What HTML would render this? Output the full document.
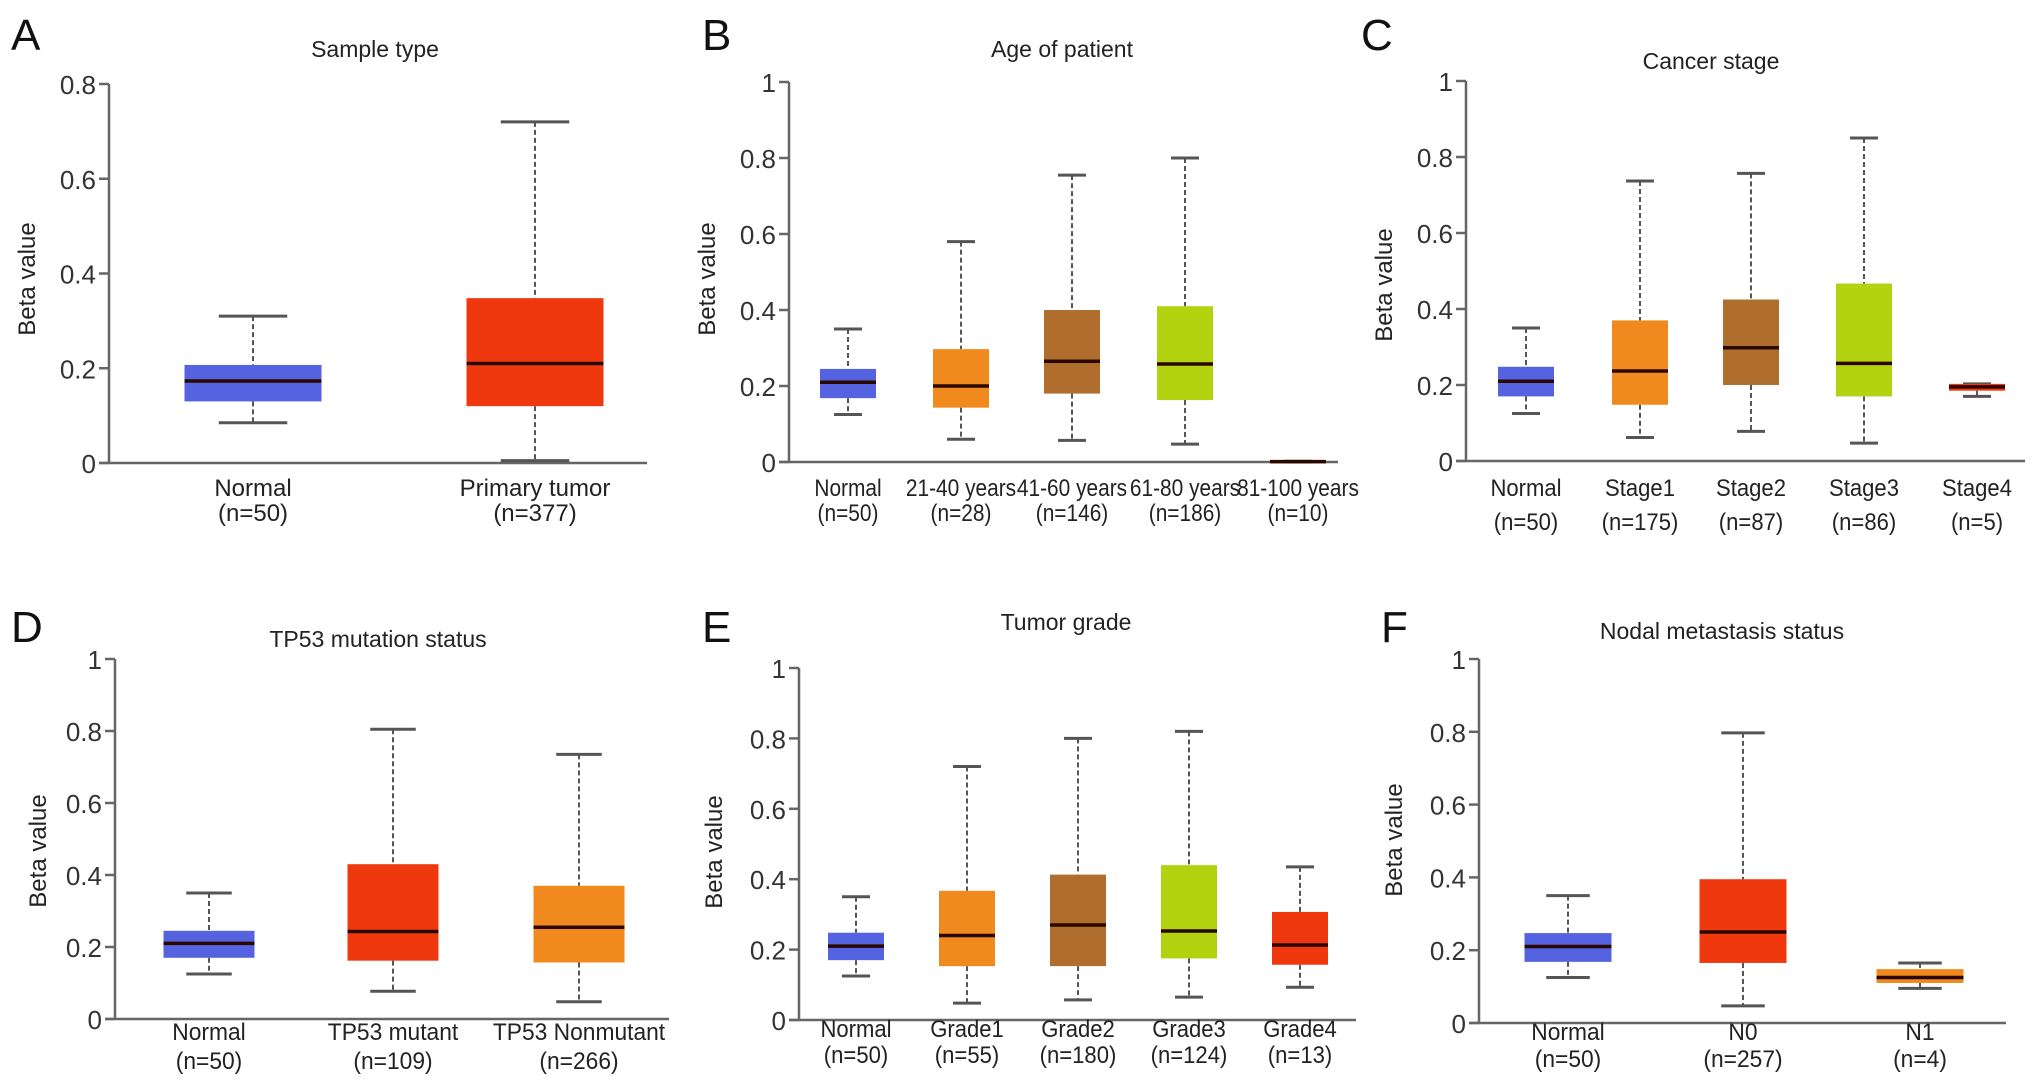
<!DOCTYPE html>
<html><head><meta charset="utf-8"><style>
html,body{margin:0;padding:0;background:#fff;}
svg{display:block;font-family:"Liberation Sans",Arial,sans-serif;}
</style></head><body>
<svg id="fig" width="2032" height="1086" viewBox="0 0 2032 1086" xmlns="http://www.w3.org/2000/svg"></svg>
<script>
// Panel A
const A_categories=["Normal","Primary tumor"];
const A_counts=["(n=50)","(n=377)"];
const A_max=[0.31,0.72];const A_q3=[0.207,0.348];const A_med=[0.173,0.21];const A_q1=[0.13,0.12];const A_min=[0.085,0.005];
const A_ticks=[0,0.2,0.4,0.6,0.8];const A_tickLabels=["0","0.2","0.4","0.6","0.8"];
// Panel B
const B_categories=["Normal","21-40 years","41-60 years","61-80 years","81-100 years"];
const B_counts=["(n=50)","(n=28)","(n=146)","(n=186)","(n=10)"];
const B_max=[0.35,0.58,0.755,0.8,0.002];const B_q3=[0.245,0.297,0.4,0.41,0.002];const B_med=[0.21,0.2,0.265,0.258,0.001];const B_q1=[0.168,0.143,0.18,0.163,0.0];const B_min=[0.125,0.06,0.057,0.047,0.0];
// Panel C
const C_categories=["Normal","Stage1","Stage2","Stage3","Stage4"];
const C_counts=["(n=50)","(n=175)","(n=87)","(n=86)","(n=5)"];
const C_max=[0.35,0.737,0.757,0.85,0.203];const C_q3=[0.248,0.37,0.425,0.467,0.203];const C_med=[0.21,0.237,0.298,0.257,0.195];const C_q1=[0.17,0.148,0.2,0.17,0.185];const C_min=[0.125,0.062,0.078,0.047,0.17];
// Panel D
const D_categories=["Normal","TP53 mutant","TP53 Nonmutant"];
const D_counts=["(n=50)","(n=109)","(n=266)"];
const D_max=[0.35,0.805,0.735];const D_q3=[0.245,0.43,0.37];const D_med=[0.21,0.243,0.255];const D_q1=[0.17,0.162,0.157];const D_min=[0.125,0.077,0.048];
// Panel E
const E_categories=["Normal","Grade1","Grade2","Grade3","Grade4"];
const E_counts=["(n=50)","(n=55)","(n=180)","(n=124)","(n=13)"];
const E_max=[0.35,0.72,0.8,0.82,0.435];const E_q3=[0.248,0.367,0.413,0.44,0.307];const E_med=[0.21,0.24,0.27,0.253,0.213];const E_q1=[0.17,0.153,0.153,0.175,0.157];const E_min=[0.125,0.048,0.057,0.065,0.093];
// Panel F
const F_categories=["Normal","N0","N1"];
const F_counts=["(n=50)","(n=257)","(n=4)"];
const F_max=[0.35,0.797,0.165];const F_q3=[0.247,0.395,0.148];const F_med=[0.21,0.25,0.125];const F_q1=[0.168,0.165,0.11];const F_min=[0.125,0.047,0.095];
const unitTicks=[0,0.2,0.4,0.6,0.8,1];const unitTickLabels=["0","0.2","0.4","0.6","0.8","1"];

const BLUE="#5563e0",RED="#f0380e",ORANGE="#f08a1e",BROWN="#b06e2e",LIME="#b3d311";
const panels=[
 {id:"a",letter:"A",lx:11,ly:50,title:"Sample type",tx:375,ty:57,ax:109,ay0:463,ayTop:84,vTop:0.8,aEnd:647,centers:[253,535],bw:137,lab1:496,lab2:521,lfs:24,lsq:1,ylx:35,yly:279,
  cats:A_categories,counts:A_counts,mx:A_max,q3:A_q3,md:A_med,q1:A_q1,mn:A_min,ticks:A_ticks,tl:A_tickLabels,colors:[BLUE,RED]},
 {id:"b",letter:"B",lx:702,ly:50,title:"Age of patient",tx:1062,ty:57,ax:789,ay0:462,ayTop:82,vTop:1,aEnd:1338,centers:[848,961,1072,1185,1298],bw:56,lab1:496,lab2:521,lfs:24,lsq:0.87,ylx:715,yly:279,
  cats:B_categories,counts:B_counts,mx:B_max,q3:B_q3,md:B_med,q1:B_q1,mn:B_min,ticks:unitTicks,tl:unitTickLabels,colors:[BLUE,ORANGE,BROWN,LIME,"#333"]},
 {id:"c",letter:"C",lx:1361,ly:50,title:"Cancer stage",tx:1711,ty:69,ax:1466,ay0:461,ayTop:81,vTop:1,aEnd:2025,centers:[1526,1640,1751,1864,1977],bw:56,lab1:496,lab2:530,lfs:24,lsq:0.92,ylx:1392,yly:285,
  cats:C_categories,counts:C_counts,mx:C_max,q3:C_q3,md:C_med,q1:C_q1,mn:C_min,ticks:unitTicks,tl:unitTickLabels,colors:[BLUE,ORANGE,BROWN,LIME,RED]},
 {id:"d",letter:"D",lx:11,ly:642,title:"TP53 mutation status",tx:378,ty:647,ax:115,ay0:1019,ayTop:659,vTop:1,aEnd:669,centers:[209,393,579],bw:91,lab1:1040,lab2:1069,lfs:24,lsq:0.95,ylx:46,yly:851,
  cats:D_categories,counts:D_counts,mx:D_max,q3:D_q3,md:D_med,q1:D_q1,mn:D_min,ticks:unitTicks,tl:unitTickLabels,colors:[BLUE,RED,ORANGE]},
 {id:"e",letter:"E",lx:702,ly:642,title:"Tumor grade",tx:1066,ty:630,ax:799,ay0:1020,ayTop:668,vTop:1,aEnd:1356,centers:[856,967,1078,1189,1300],bw:56,lab1:1037,lab2:1063,lfs:24,lsq:0.92,ylx:722,yly:852,
  cats:E_categories,counts:E_counts,mx:E_max,q3:E_q3,md:E_med,q1:E_q1,mn:E_min,ticks:unitTicks,tl:unitTickLabels,colors:[BLUE,ORANGE,BROWN,LIME,RED]},
 {id:"f",letter:"F",lx:1381,ly:642,title:"Nodal metastasis status",tx:1722,ty:639,ax:1479,ay0:1023,ayTop:659,vTop:1,aEnd:2006,centers:[1568,1743,1920],bw:87,lab1:1040,lab2:1067,lfs:24,lsq:0.95,ylx:1402,yly:840,
  cats:F_categories,counts:F_counts,mx:F_max,q3:F_q3,md:F_med,q1:F_q1,mn:F_min,ticks:unitTicks,tl:unitTickLabels,colors:[BLUE,RED,ORANGE]}
];
const NS="http://www.w3.org/2000/svg";
const svg=document.getElementById("fig");
function mk(tag,attrs,parent,text){const e=document.createElementNS(NS,tag);for(const k in attrs)e.setAttribute(k,attrs[k]);if(text!==undefined)e.textContent=text;parent.appendChild(e);return e;}
panels.forEach(p=>{
  const g=mk("g",{},svg);
  
  
  const y=v=>p.ay0-(v/p.vTop)*(p.ay0-p.ayTop);
  const L=mk("text",{x:p.lx,y:p.ly,"font-size":44,fill:"#111"},g,p.letter);
  
  
  const T=mk("text",{x:p.tx,y:p.ty,"font-size":23,fill:"#222","text-anchor":"middle"},g,p.title);
  
  
  const YL=mk("text",{x:p.ylx,y:p.yly,"font-size":24,fill:"#222","text-anchor":"middle",transform:"rotate(-90 "+p.ylx+" "+p.yly+")"},g,"Beta value");
  
  
  const ya=mk("line",{x1:p.ax,y1:p.ayTop,x2:p.ax,y2:p.ay0,stroke:"#666","stroke-width":2.5},g);
  
  
  const xa=mk("line",{x1:p.ax-10,y1:p.ay0,x2:p.aEnd,y2:p.ay0,stroke:"#666","stroke-width":2.5},g);
  
  
  p.ticks.forEach((t,i)=>{
    const tk=mk("line",{x1:p.ax-10,y1:y(t),x2:p.ax,y2:y(t),stroke:"#666","stroke-width":2.5},g);
    
    
    const tl=mk("text",{x:p.ax-13,y:y(t)+10,"font-size":26,fill:"#333","text-anchor":"end"},g,p.tl[i]);
    
    
  });
  p.cats.forEach((c,i)=>{
    const cx=p.centers[i],hw=p.bw/2,col=p.colors[i];
    const bg=mk("g",{},g);
    
    
    const dash={stroke:"#555","stroke-width":2,"stroke-dasharray":"5,3"};
    const w1=mk("line",Object.assign({x1:cx,y1:y(p.mx[i]),x2:cx,y2:y(p.q3[i])},dash),bg);
    
    
    const w2=mk("line",Object.assign({x1:cx,y1:y(p.q1[i]),x2:cx,y2:y(p.mn[i])},dash),bg);
    
    
    const cw=hw*0.5;
    const c1=mk("line",{x1:cx-cw,y1:y(p.mx[i]),x2:cx+cw,y2:y(p.mx[i]),stroke:"#555","stroke-width":3},bg);
    
    
    const c2=mk("line",{x1:cx-cw,y1:y(p.mn[i]),x2:cx+cw,y2:y(p.mn[i]),stroke:"#555","stroke-width":3},bg);
    
    
    const r=mk("rect",{x:cx-hw,y:y(p.q3[i]),width:p.bw,height:Math.max(2,y(p.q1[i])-y(p.q3[i])),fill:col},bg);
    
    
    const m=mk("line",{x1:cx-hw,y1:y(p.md[i]),x2:cx+hw,y2:y(p.md[i]),stroke:"#2a0800","stroke-width":3.5},bg);
    
    
    const tf="translate("+cx+" 0) scale("+p.lsq+" 1)";
    const t1=mk("text",{x:0,y:p.lab1,"font-size":p.lfs,fill:"#222","text-anchor":"middle",transform:tf},g,c);
    
    
    const t2=mk("text",{x:0,y:p.lab2,"font-size":p.lfs,fill:"#222","text-anchor":"middle",transform:tf},g,p.counts[i]);
    
    
  });
});
</script>
</body></html>
